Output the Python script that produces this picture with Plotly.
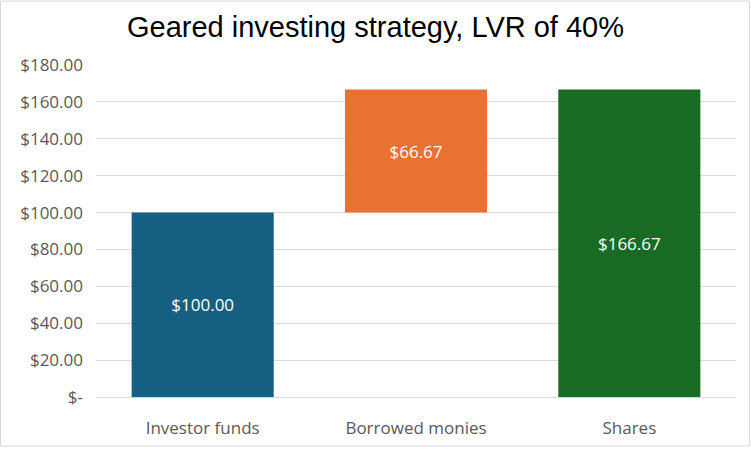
import plotly.graph_objects as go

categories = ["Investor funds", "Borrowed monies", "Shares"]
values = [100.00, 66.67, 166.67]
bases = [0, 100.00, 0]
labels = ["$100.00", "$66.67", "$166.67"]
colors = ["#156082", "#E97132", "#196B24"]
ytick_vals = [0, 20, 40, 60, 80, 100, 120, 140, 160, 180]
ytick_text = ["$-", "$20.00", "$40.00", "$60.00", "$80.00", "$100.00",
              "$120.00", "$140.00", "$160.00", "$180.00"]

fig = go.Figure(go.Bar(
    x=categories, y=values, base=bases,
    marker=dict(color=colors, line=dict(width=0)),
    text=labels, textposition="inside", insidetextanchor="middle",
    textfont=dict(color="white", size=17, family="Open Sans"),
    textangle=0, hoverinfo="skip",
))

W, H = 751, 451
L, R, T, B = 96, 15, 65, 51
fig.update_layout(
    width=W, height=H,
    margin=dict(l=L, r=R, t=T, b=B),
    paper_bgcolor="white", plot_bgcolor="white",
    bargap=0.334,
    showlegend=False,
    title=dict(text="Geared investing strategy, LVR of 40%",
               font=dict(family="Liberation Sans, Arial", size=29, color="black"),
               x=0.5, xanchor="center", y=1 - 27 / H, yanchor="middle"),
    xaxis=dict(showgrid=False, showline=True, linecolor="#D9D9D9", linewidth=1,
               ticks="", tickfont=dict(family="Open Sans", size=17, color="#595959"),
               ticklabelstandoff=16),
    yaxis=dict(range=[0, 180], tickvals=ytick_vals, ticktext=ytick_text,
               showgrid=True, gridcolor="#D9D9D9", gridwidth=1,
               zeroline=False, showline=False, ticks="",
               tickfont=dict(family="Open Sans", size=17, color="#595959"),
               ticklabelstandoff=12),
)

pw = W - L - R
ph = H - T - B
fig.add_shape(type="rect", xref="paper", yref="paper",
              x0=-(L - 0.5) / pw, x1=1 + (R - 1.5) / pw,
              y0=-(B - 1.5) / ph, y1=1 + (T - 0.5) / ph,
              line=dict(color="#D9D9D9", width=1), layer="below")

fig.write_html("out.html", config={"displayModeBar": False},
               post_script="document.body.style.margin='0';")
